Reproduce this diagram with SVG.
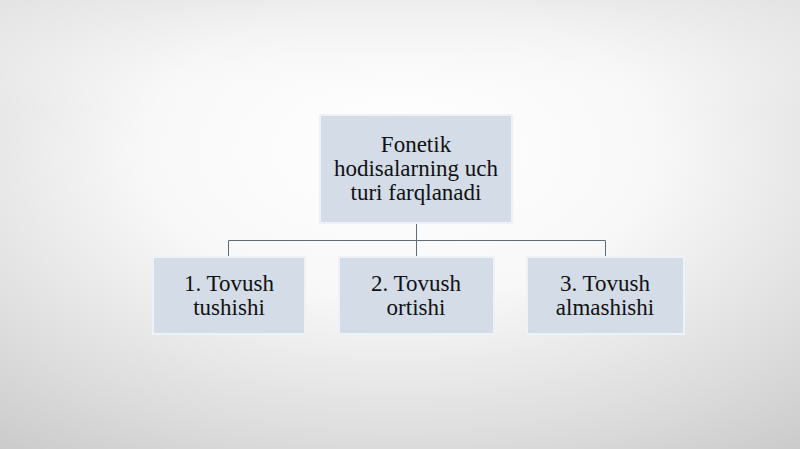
<svg xmlns="http://www.w3.org/2000/svg" width="800" height="449" viewBox="0 0 800 449">
<defs>
<radialGradient id="bg" cx="400" cy="150" r="560" gradientUnits="userSpaceOnUse" gradientTransform="translate(400 150) scale(1.3 0.75) translate(-400 -150)">
<stop offset="0" stop-color="#ffffff"/>
<stop offset="0.35" stop-color="#f8f8f8"/>
<stop offset="0.7" stop-color="#dcdcdc"/>
<stop offset="1" stop-color="#c2c2c2"/>
</radialGradient>
<linearGradient id="top" x1="0" y1="0" x2="0" y2="1">
<stop offset="0" stop-color="#e6e6e6" stop-opacity="0.6"/>
<stop offset="0.25" stop-color="#ffffff" stop-opacity="0"/>
</linearGradient>
<style>
.box{fill:#d3dce7;stroke:#eef1f5;stroke-width:2}
.t{font-family:"Liberation Serif","Times New Roman",serif;font-size:23px;fill:#111111;text-anchor:middle}
.c{stroke:#5e6c78;stroke-width:1;fill:none}
</style>
</defs>
<rect width="800" height="449" fill="url(#bg)"/>
<rect width="800" height="449" fill="url(#top)"/>
<g id="connectors">
<path class="c" d="M416.5 223 V240.5 M228.5 257 V240.5 H605.5 V257 M416.5 240.5 V257"/>
</g>
<g id="root">
<rect class="box" x="320" y="115" width="192" height="108"/>
<text class="t" x="416" y="152">Fonetik</text>
<text class="t" x="416" y="176">hodisalarning uch</text>
<text class="t" x="416" y="200">turi farqlanadi</text>
</g>
<g id="n1">
<rect class="box" x="153" y="257" width="152" height="77"/>
<text class="t" x="229" y="291">1. Tovush</text>
<text class="t" x="229" y="315">tushishi</text>
</g>
<g id="n2">
<rect class="box" x="339" y="257" width="155" height="77"/>
<text class="t" x="416" y="291">2. Tovush</text>
<text class="t" x="416" y="315">ortishi</text>
</g>
<g id="n3">
<rect class="box" x="527" y="257" width="157" height="77"/>
<text class="t" x="605" y="291">3. Tovush</text>
<text class="t" x="605" y="315">almashishi</text>
</g>
</svg>
